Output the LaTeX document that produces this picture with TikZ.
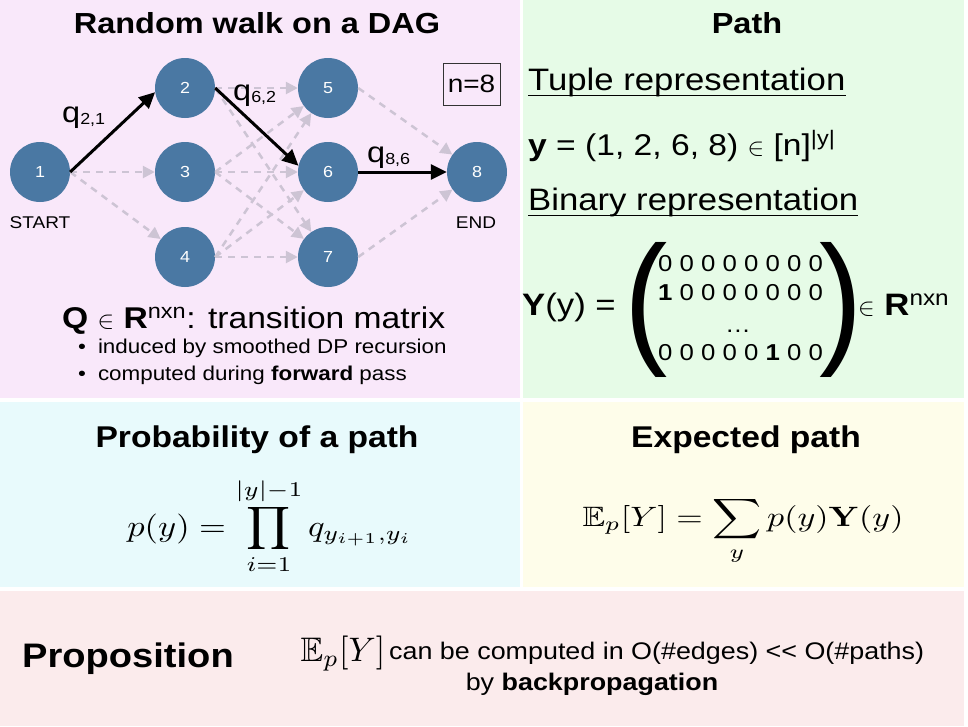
\documentclass[tikz,border=0pt]{standalone}
\usepackage{amsmath,amssymb}
\usepackage[no-math]{fontspec}
\setmainfont[FakeStretch=1.12]{Liberation Sans}
\usetikzlibrary{arrows.meta}

\definecolor{pinkbg}{RGB}{249,232,250}
\definecolor{greenbg}{RGB}{230,251,231}
\definecolor{cyanbg}{RGB}{232,250,252}
\definecolor{yellowbg}{RGB}{254,253,234}
\definecolor{rosebg}{RGB}{251,235,236}
\definecolor{nodeblue}{RGB}{74,120,163}
\definecolor{dashcol}{RGB}{205,196,212}

\newcommand{\fsz}[1]{\fontsize{#1}{#1}\selectfont}

\tikzset{
  state/.style={circle, fill=nodeblue, minimum size=60pt, inner sep=0pt,
    text=white, font=\fsz{16}},
  walk/.style={-{Triangle[length=16pt,width=15pt]}, line width=3pt, black},
  faint/.style={-{Triangle[length=12pt,width=12pt]}, line width=2.5pt,
    dashcol, dash pattern=on 7pt off 6pt},
  title/.style={anchor=base, inner sep=0pt, font=\fsz{29}\bfseries},
  txt/.style={anchor=base west, inner sep=0pt},
  bigpar/.style={inner sep=0pt, xscale=0.8, font=\fsz{145}},
}

\begin{document}
\begin{tikzpicture}[x=1pt,y=-1pt]

\useasboundingbox (0,0) rectangle (968,726);
\fill[white] (0,0) rectangle (968,726);
\fill[pinkbg] (0,0) rectangle (520,398);
\fill[greenbg] (523,0) rectangle (964,398);
\fill[cyanbg] (0,402) rectangle (520,587);
\fill[yellowbg] (523,402) rectangle (964,587);
\fill[rosebg] (0,591) rectangle (964,726);

% random walk
\node[title] (walktitle) at (257,33) {Random walk on a DAG};

\node[state] (n1) at (40,172) {1};
\node[state] (n2) at (185,88) {2};
\node[state] (n3) at (185,172) {3};
\node[state] (n4) at (185,257) {4};
\node[state] (n5) at (328,88) {5};
\node[state] (n6) at (328,172) {6};
\node[state] (n7) at (328,257) {7};
\node[state] (n8) at (477,172) {8};

\foreach \a/\b in {1/3,1/4,2/5,2/7,3/5,3/6,3/7,4/5,4/6,4/7,5/8,7/8}
  \draw[faint] (n\a.east) -- (n\b);
\draw[walk] (n1.east) -- (n2.188);
\draw[walk] (n2.east) -- (n6.168);
\draw[walk] (n6.east) -- (n8.west);

\node[txt, font=\fsz{29}] (q21) at (62,122) {q\raisebox{-2pt}{\fsz{16}2,1}};
\node[txt, font=\fsz{29}] (q62) at (233,100) {q\raisebox{-2pt}{\fsz{16}6,2}};
\node[txt, font=\fsz{29}] (q86) at (367,162) {q\raisebox{-2pt}{\fsz{16}8,6}};

\node[anchor=base, inner sep=0pt, font=\fsz{17}] (start) at (40,228) {START};
\node[anchor=base, inner sep=0pt, font=\fsz{17}] (end) at (476,228) {END};
\node[draw=black!80, line width=0.8pt, minimum width=57pt, minimum height=42pt,
  inner sep=0pt, font=\fsz{25}] (nbox) at (471.5,84) {n=8};

\node[txt, font=\fsz{30}] (qline) at (62,328)
  {{\bfseries Q} $\in$ {\bfseries R}\textsuperscript{nxn}: transition matrix};
\node[txt, font=\fsz{20}] (bul1) at (78,353)
  {\textbullet\hspace{12pt}induced by smoothed DP recursion};
\node[txt, font=\fsz{20}] (bul2) at (78,380)
  {\textbullet\hspace{12pt}computed during {\bfseries forward} pass};

% path
\node[title] (pathtitle) at (747,33) {Path};
\node[txt, font=\fsz{31}] (tuple) at (528,90) {Tuple representation};
\draw[line width=1pt] ([yshift=-5pt]tuple.base west) -- ([yshift=-5pt]tuple.base east);
\node[txt, font=\fsz{30}] (tuplev) at (528,155)
  {{\bfseries y} = (1, 2, 6, 8) $\in$ [n]\textsuperscript{|y|}};
\node[txt, font=\fsz{31}] (binary) at (528,210) {Binary representation};
\draw[line width=1pt] ([yshift=-5pt]binary.base west) -- ([yshift=-5pt]binary.base east);

\node[txt, font=\fsz{31}] (ylhs) at (522,315) {{\bfseries Y}(y) =};
\node[bigpar] (lpar) at (646,310) {(};
\node[bigpar] (rpar) at (841,310) {)};
\node[txt, font=\fsz{23}] (row1) at (658,271) {0 0 0 0 0 0 0 0};
\node[txt, font=\fsz{23}] (row2) at (658,300) {{\bfseries 1} 0 0 0 0 0 0 0};
\node[anchor=base, inner sep=0pt, font=\fsz{23}] (rowdots) at (738,332) {\ldots};
\node[txt, font=\fsz{23}] (row4) at (658,360) {0 0 0 0 0 {\bfseries 1} 0 0};
\node[txt, font=\fsz{31}] (yrhs) at (858,315) {$\in$ {\bfseries R}\textsuperscript{nxn}};

% probability
\node[title, font=\fsz{30}\bfseries] (probtitle) at (257,447) {Probability of a path};
\node[xscale=3.45, yscale=3] (prob) at (270,526)
  {$\displaystyle p(y)=\prod_{i=1}^{|y|-1} q_{y_{i+1},y_i}$};

% expectation
\node[title, font=\fsz{30}\bfseries] (exptitle) at (746,447) {Expected path};
\node[xscale=3.4, yscale=2.8] (expect) at (743,531)
  {$\displaystyle \mathbb{E}_p[Y]=\sum_y p(y)\mathbf{Y}(y)$};

% proposition
\node[txt, font=\fsz{34}\bfseries] (prop) at (22,667) {Proposition};
\node[scale=3.4, inner sep=0pt, anchor=west] (propE) at (300,654) {$\mathbb{E}_p[Y]$};
\node[txt, font=\fsz{24}] (propa) at (389,659)
  {can be computed in O(\#edges) <\kern0pt< O(\#paths)};
\node[anchor=base, inner sep=0pt, font=\fsz{24}] (propb) at (592,690)
  {by {\bfseries backpropagation}};

\end{tikzpicture}
\end{document}
